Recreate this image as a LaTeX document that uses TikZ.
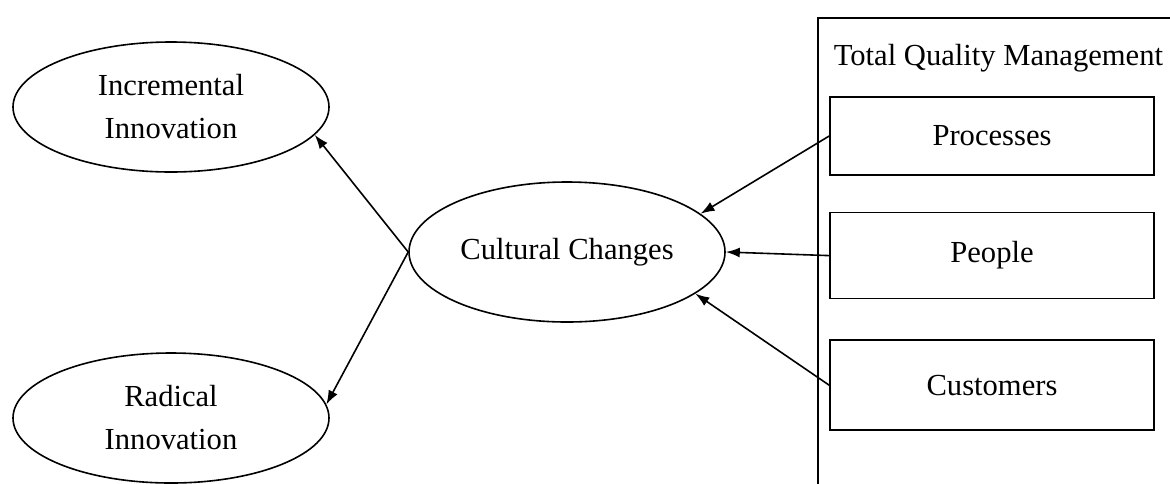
\documentclass[tikz,border=0pt]{standalone}
\usepackage{fontspec}
\setmainfont{Liberation Serif}
\usepackage{tikz}
\usetikzlibrary{positioning,shapes.geometric,arrows.meta}

\begin{document}
\begin{tikzpicture} [x=0.5pt, y=-0.5pt, node distance=18pt, thick,
                    >={Latex[length=7pt,width=5pt]},
                    every node/.style={font=\fontsize{15.3}{21.5}\selectfont},
                    soikio/.style={ellipse,draw,minimum width=158pt,minimum height=65pt,inner sep=0pt,align=center},
                    laatikko/.style={rectangle,draw,minimum width=162pt,minimum height=42pt,inner sep=0pt}]
\useasboundingbox (0,0) rectangle (1170,483);
\clip (0,0) rectangle (1170,483);

\node[soikio] (II) at (171,107) {Incremental\\Innovation};
\node[soikio] (RI) at (171,418) {Radical\\Innovation};
\node[soikio, minimum height=70pt] (CC) at (567,252) {Cultural Changes};

% TQM frame runs off the page
\draw (818,540) -- (818,18) -- (1220,18);
\node[anchor=west, inner sep=0pt] (TQM) at (833,58) {Total Quality Management};
\node[laatikko, minimum height=39pt] (Proc) at (992,136) {Processes};
\node[laatikko, minimum height=43pt] (Peop) [below=18pt of Proc] {People};
\node[laatikko, minimum height=45pt] (Cust) [below=20pt of Peop] {Customers};

 \path[->]
    (CC.west) edge (II.-11)
    (CC.west) edge (RI.5)
    (Proc.west) edge (CC.16)
    (Peop.west) edge (CC.east)
    (Cust.west) edge (CC.-18);
\end{tikzpicture}
\end{document}
